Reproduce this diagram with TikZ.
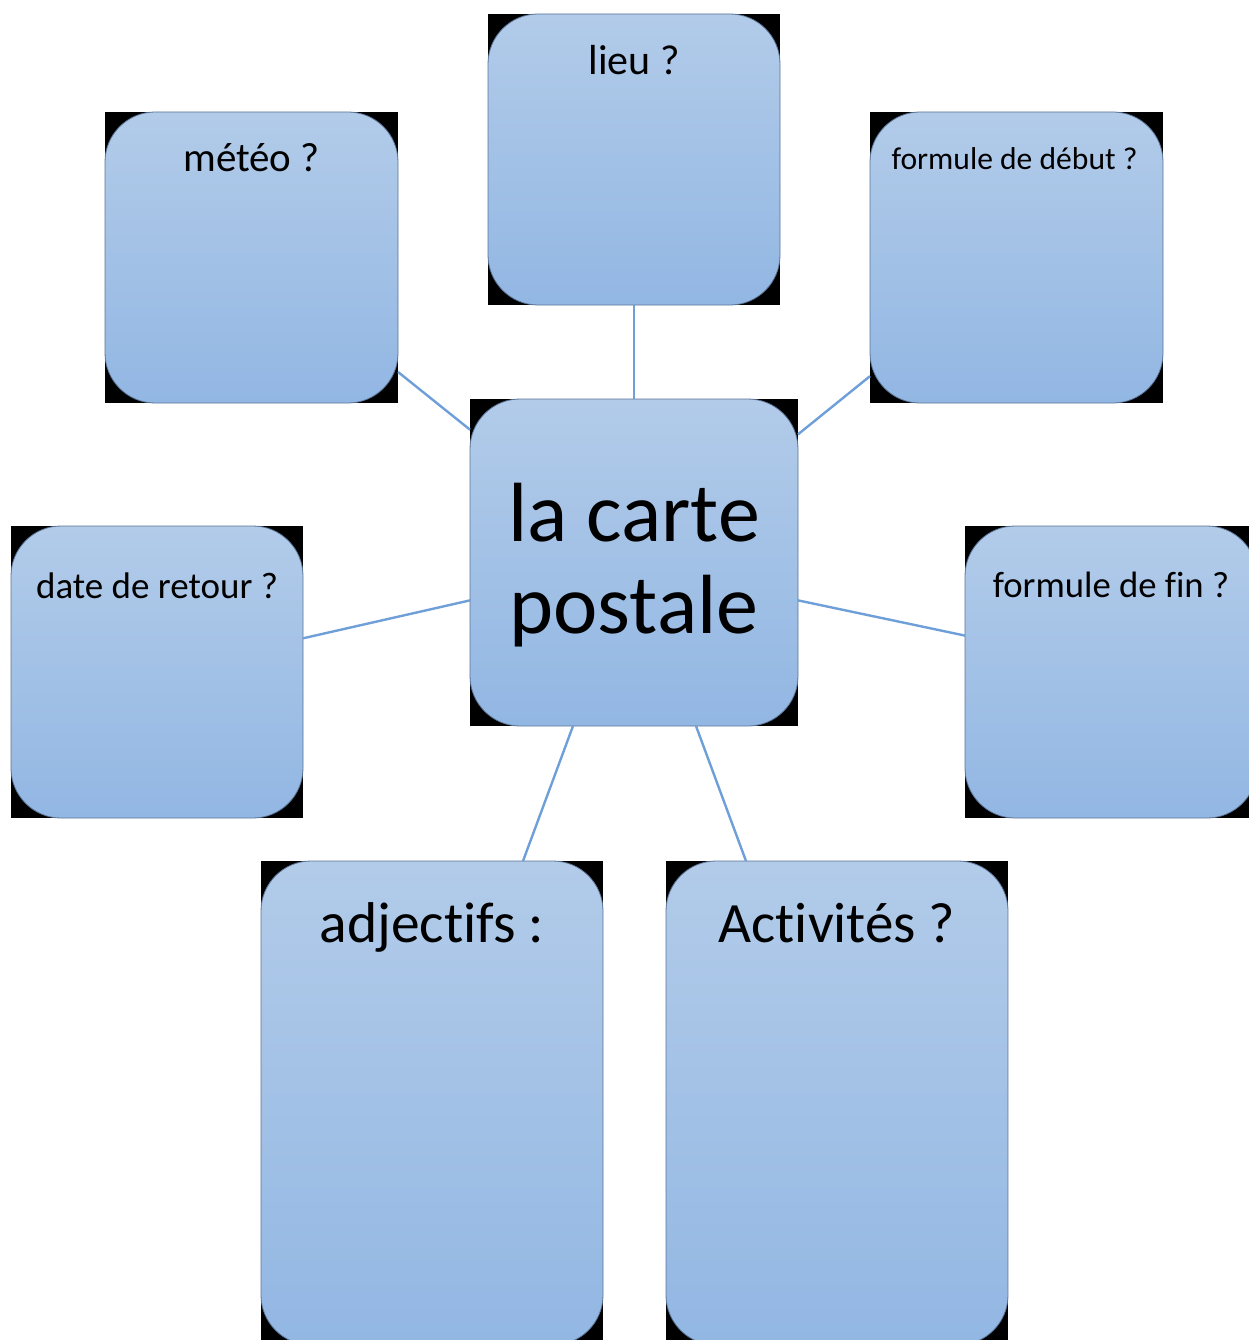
\documentclass[tikz,border=0pt]{standalone}
\usepackage{fontspec}
\setmainfont[Ligatures={NoCommon}]{Carlito}
\usetikzlibrary{calc}
\definecolor{boxtop}{RGB}{178,203,233}
\definecolor{boxbot}{RGB}{146,183,227}
\definecolor{boxedge}{RGB}{90,115,150}
\definecolor{linkblue}{RGB}{111,159,216}
\tikzset{
  backrect/.style={fill=black, draw=none, inner sep=0pt, outer sep=0pt},
  bubble/.style={draw=boxedge, line width=0.8pt, rounded corners=50pt,
    top color=boxtop, bottom color=boxbot, inner sep=0pt, outer sep=0pt},
  link/.style={draw=linkblue, line width=2.4pt},
  lbl/.style={anchor=base, inner sep=0pt, text=black},
}
\newcommand{\mybox}[5]{% name, x, y(top-down), w, h
  \node[backrect, minimum width=#4pt, minimum height=#5pt] (#1) at (#2,-#3) {};
  \node[bubble, minimum width=#4pt, minimum height=#5pt] (#1b) at (#2,-#3) {};
}
\begin{document}
\begin{tikzpicture}[x=1pt,y=1pt]
\useasboundingbox (0,0) rectangle (1249,-1340);
\clip (0,0) rectangle (1249,-1340);
% boxes
\mybox{lieu}{634}{159.5}{292}{291}
\mybox{meteo}{251.5}{257.5}{293}{291}
\mybox{debut}{1016.5}{257.5}{293}{291}
\mybox{cp}{634}{562.5}{328}{327}
\mybox{date}{157}{672}{292}{292}
\mybox{fin}{1111}{672}{292}{292}
\mybox{adj}{432}{1103}{342}{484}
\mybox{act}{837}{1103}{342}{484}
% labels
\node[lbl, font=\fontsize{42}{48}\selectfont] (tlieu) at ($(lieu.north)+(0,-61)$) {lieu ?};
\node[lbl, font=\fontsize{41}{48}\selectfont] (tmeteo) at ($(meteo.north)+(0,-60)$) {météo ?};
\node[lbl, font=\fontsize{31.6}{38}\selectfont] (tdebut) at ($(debut.north)+(-2,-58)$) {formule de début ?};
\node[lbl, font=\fontsize{37}{44}\selectfont] (tdate) at ($(date.north)+(0,-72)$) {date de retour ?};
\node[lbl, font=\fontsize{36.7}{44}\selectfont] (tfin) at ($(fin.north)+(0,-71)$) {formule de fin ?};
\node[lbl, font=\fontsize{57.5}{66}\selectfont] (tadj) at ($(adj.north)+(0,-81)$) {adjectifs :};
\node[lbl, font=\fontsize{57}{66}\selectfont] (tact) at ($(act.north)+(0,-81)$) {Activités ?};
\node[anchor=center, inner sep=0pt, align=center, font=\fontsize{84}{92}\selectfont] (tcp) at (634,-565.5) {la carte\\postale};
% connectors
\draw[link] (lieu.south) -- (cp.north);
\draw[link] (meteo.-38.97) -- (cp.141.5);
\draw[link] (debut.-141) -- (cp.38.5);
\draw[link] (date.13.1) -- (cp.193.2);
\draw[link] (fin.166.9) -- (cp.-13.2);
\draw[link] ($(adj.north)+(91,0)$) -- ($(cp.south)+(-61,0)$);
\draw[link] ($(act.north)+(-91,0)$) -- ($(cp.south)+(62,0)$);
\end{tikzpicture}
\end{document}
